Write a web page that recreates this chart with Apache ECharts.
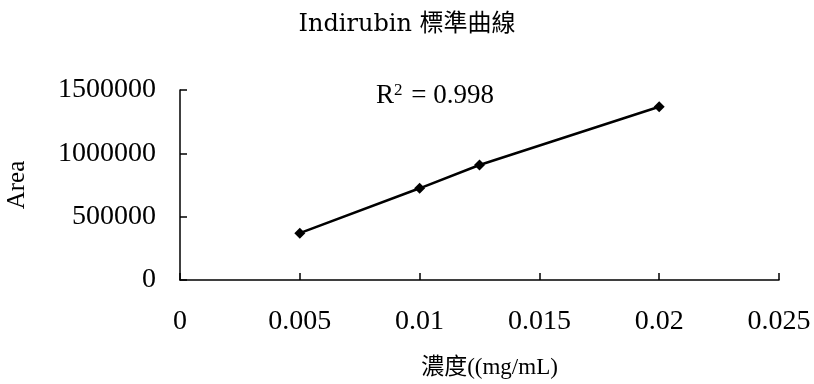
<!DOCTYPE html>
<html>
<head>
<meta charset="utf-8">
<script src="https://cdn.jsdelivr.net/npm/echarts@6/dist/echarts.min.js"></script>
<style>
  html, body { margin: 0; padding: 0; background: #fff; }
  #chart { width: 814px; height: 384px; }
</style>
</head>
<body>
<div id="chart"></div>
<script>
// Calibration data: concentration (mg/mL) vs peak area
var concentrations = [0.005, 0.01, 0.0125, 0.02];
var areas = [370000, 724000, 908000, 1368000];
var rSquared = '0.998';
var titleText = 'Indirubin 標準曲線';
var xAxisName = '濃度((mg/mL)';
var yAxisName = 'Area';

var serif = "'Liberation Serif', 'Times New Roman', serif";
var cjk = "'DejaVu Serif', 'Noto Sans CJK TC', serif";

var points = concentrations.map(function (c, i) { return [c, areas[i]]; });

var chart = echarts.init(document.getElementById('chart'));
chart.setOption({
  backgroundColor: '#fff',
  animation: false,
  title: {
    text: titleText,
    left: 'center',
    top: 8,
    textStyle: { fontFamily: cjk, fontSize: 24, fontWeight: 'normal', color: '#000' }
  },
  grid: { left: 180, right: 35, top: 90, bottom: 104, containLabel: false, outerBoundsMode: 'none' },
  xAxis: {
    type: 'value',
    min: 0, max: 0.025, interval: 0.005,
    name: xAxisName,
    nameLocation: 'middle',
    nameGap: 76,
    nameTextStyle: {
      fontFamily: "'Liberation Serif', 'Noto Sans CJK TC', serif", fontSize: 23, color: '#000',
      padding: [0, 0, 0, 20]
    },
    axisLine: { show: true, lineStyle: { color: '#000', width: 1.5 } },
    axisTick: { show: true, inside: true, length: 7, lineStyle: { color: '#000', width: 1.5 } },
    axisLabel: {
      fontFamily: serif, fontSize: 28, color: '#000', margin: 28,
      formatter: function (v) { return String(+v.toFixed(4)); }
    },
    splitLine: { show: false }
  },
  yAxis: {
    type: 'value',
    min: 0, max: 1500000, interval: 500000,
    name: yAxisName,
    nameLocation: 'middle',
    nameGap: 150,
    nameRotate: 90,
    nameTextStyle: { fontFamily: serif, fontSize: 25, color: '#000' },
    axisLine: { show: true, lineStyle: { color: '#000', width: 1.5 } },
    axisTick: { show: true, inside: true, length: 7, lineStyle: { color: '#000', width: 1.5 } },
    axisLabel: {
      fontFamily: serif, fontSize: 28, color: '#000', margin: 24,
      formatter: function (v) { return String(v); }
    },
    splitLine: { show: false }
  },
  graphic: [{
    type: 'text',
    left: 376,
    top: 82,
    style: {
      text: 'R{sup|2} = ' + rSquared,
      font: '27px ' + serif,
      fill: '#000',
      rich: {
        sup: { fontFamily: serif, fontSize: 17, verticalAlign: 'top', padding: [0, 2, 10, 0], fill: '#000' }
      }
    }
  }],
  series: [{
    type: 'line',
    data: points,
    symbol: 'diamond',
    symbolSize: 11,
    lineStyle: { color: '#000', width: 2.5 },
    itemStyle: { color: '#000' }
  }]
});
</script>
</body>
</html>
